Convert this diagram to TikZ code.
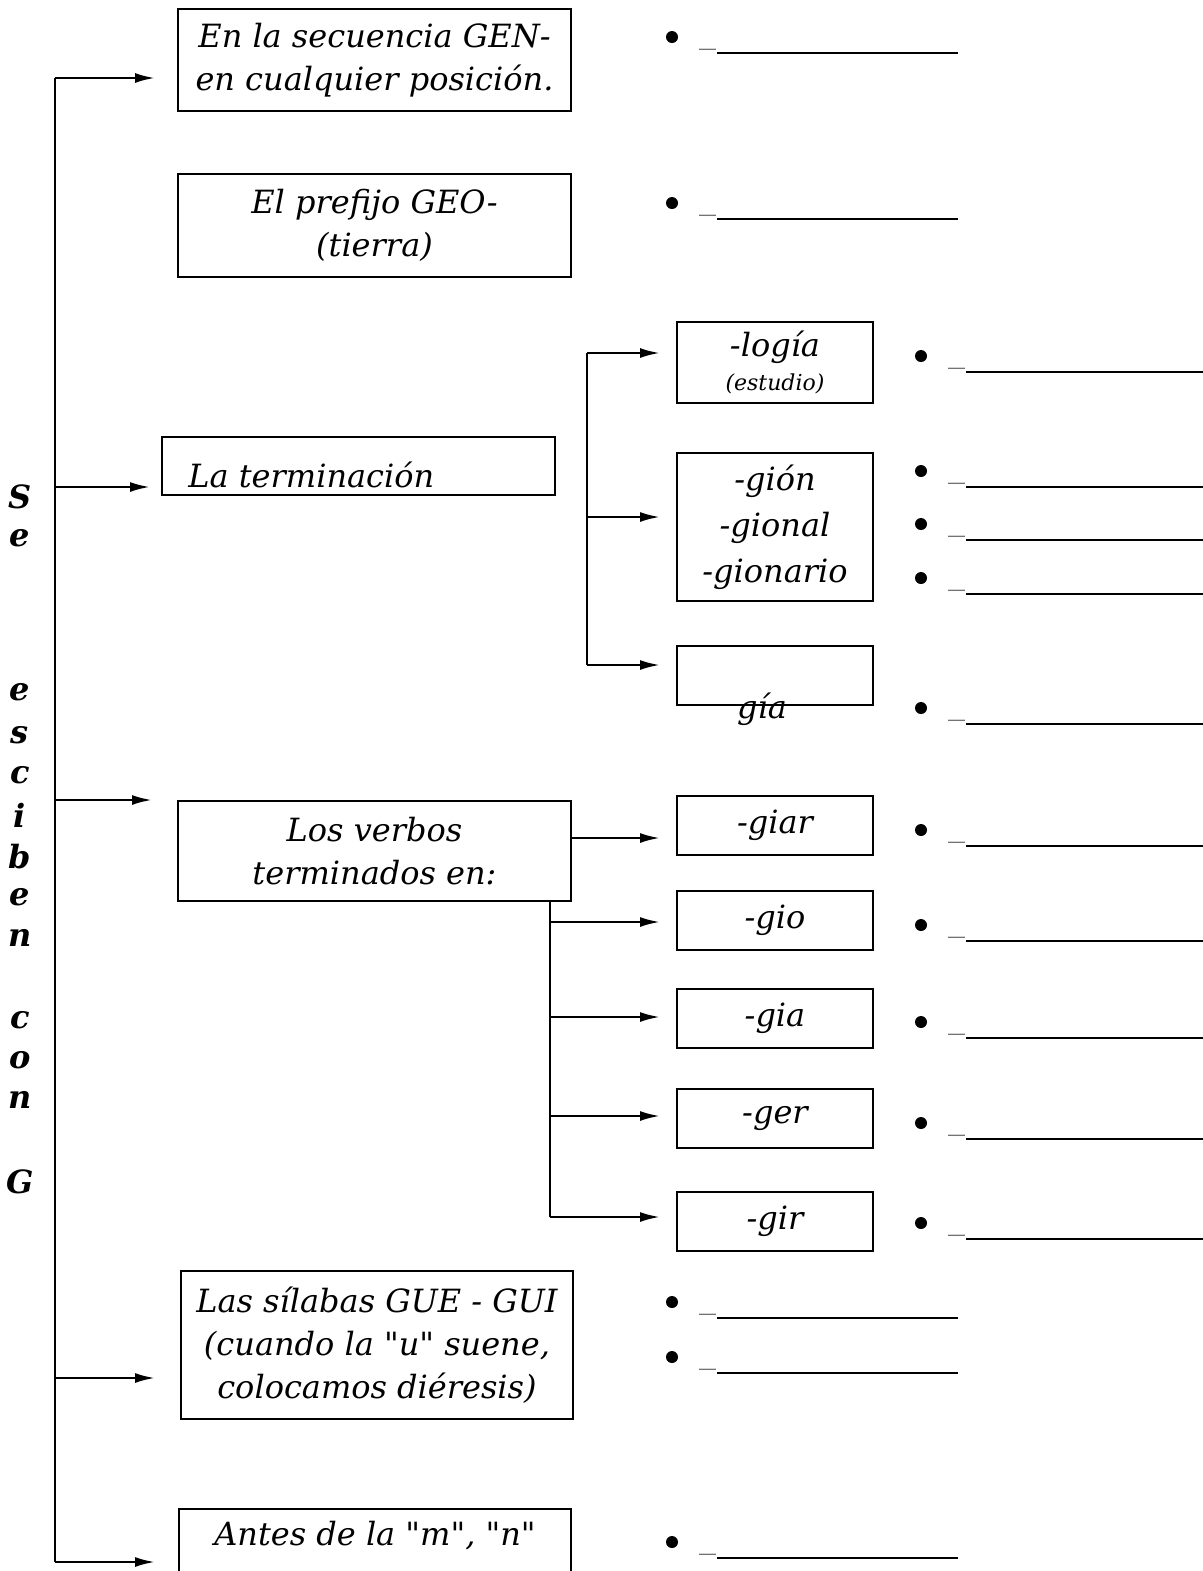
\documentclass[tikz,border=0pt]{standalone}
\usepackage{fontspec}
\setmainfont{DejaVu Serif}
\usepackage{tikz}
\usetikzlibrary{positioning, arrows.meta}

\begin{document}
\begin{tikzpicture}[x=0.5pt, y=-0.5pt,
		box/.style={draw, line width=1pt, rectangle, inner sep=0pt, anchor=north west, align=center,
			font=\fontsize{16}{21.5}\selectfont\itshape},
		txt/.style={inner sep=0pt, align=center, font=\fontsize{16}{21.5}\selectfont\itshape},
		vletter/.style={inner sep=0pt, font=\fontsize{16}{18}\selectfont\bfseries\itshape},
		dot/.style={circle, fill, inner sep=0pt, minimum size=6pt},
		under/.style={inner sep=0pt, anchor=south east, text=black!55, font=\fontsize{17}{17}\selectfont},
		blank/.style={line width=1.3pt},
		branch/.style={line width=1.2pt},
		>={Latex[length=10pt, width=5pt]}
		]
		\useasboundingbox (0,0) rectangle (1203,1571);
		
		% left column
		\node[box, minimum width=196.5pt, minimum height=51pt] (gen) at (177,8) {En la secuencia GEN-\\en cualquier posición.};
		\node[box, minimum width=196.5pt, minimum height=51.5pt] (geo) at (177,173) {El prefijo GEO-\\(tierra)};
		\node[box, minimum width=196.5pt, minimum height=29pt] (term) at (161,436) {};
		\node[txt, anchor=west] (termT) at (188,475) {La terminación};
		\node[box, minimum width=196.5pt, minimum height=50pt] (verb) at (177,800) {Los verbos\\terminados en:};
		\node[box, minimum width=196pt, minimum height=74pt] (gue) at (180,1270) {Las sílabas GUE - GUI\\(cuando la \textquotedbl u\textquotedbl{} suene,\\colocamos diéresis)};
		\node[box, minimum width=196pt, minimum height=46pt] (mn) at (178,1508) {Antes de la \textquotedbl m\textquotedbl, \textquotedbl n\textquotedbl\\\phantom{x}};
		
		% vertical title
		\foreach \l/\y in {S/497, e/538, e/692, s/735, c/775, i/815, b/857, e/897, n/938, c/1020, o/1060, n/1100, G/1182}
		\node[vletter] at (20,\y) {\l};
		
		% trunk
		\coordinate (top) at (55,78);
		\coordinate (bot) at (55,1562);
		\draw[branch] (top) -- (bot);
		\foreach \y/\e [count=\i] in {78/155, 487/150, 800/152, 1378/155, 1562/155} {
			\coordinate (in\i) at (\e,\y);
			\draw[branch, ->] (in\i -| top) -- (in\i);
		}
		
		% la terminacion
		\node[box, minimum width=98pt, minimum height=40.5pt, font=\fontsize{16}{19}\selectfont\itshape] (logia) at (676,321) {-logía\\[-2pt]{\fontsize{11}{12}\selectfont (estudio)}};
		\node[box, minimum width=98pt, minimum height=74pt, font=\fontsize{16}{23}\selectfont\itshape] (gion) at (676,452) {-gión\\-gional\\-gionario};
		\node[box, minimum width=98pt, minimum height=29.5pt] (gia) at (676,645) {};
		\node[txt] (giaT) at (762,709) {gía};
		\coordinate (split) at (587,353);
		\draw[branch] (split) -- (587,665);
		\foreach \y [count=\i] in {353, 517, 665} {
			\coordinate (tin\i) at (660,\y);
			\draw[branch, ->] (tin\i -| split) -- (tin\i);
		}
		
		% los verbos
		\foreach \name/\y [count=\i] in {giar/795, gio/890, gia/988, ger/1088, gir/1191} {
			\node[box, minimum width=98pt, minimum height=29.5pt] (v\i) at (676,\y) {-\name};
		}
		\coordinate (vin1) at (660,838);
		\draw[branch, ->] (verb.east |- vin1) -- (vin1);
		\coordinate (vsplit) at (550,900);
		\draw[branch] (vsplit) -- (550,1217);
		\foreach \y [count=\i from 2] in {922, 1017, 1116, 1217} {
			\coordinate (vin\i) at (660,\y);
			\draw[branch, ->] (vin\i -| vsplit) -- (vin\i);
		}
		
		% blanks
		\foreach \x/\y/\len [count=\i] in {672/37/241, 672/203/241, 921/356/238, 921/471/238, 921/524/238, 921/578/238, 921/708/238,
			921/830/238, 921/925/238, 921/1022/238, 921/1123/238, 921/1223/238, 672/1302/241, 672/1357/241, 672/1542/241} {
			\node[dot] (dot\i) at (\x,\y) {};
			\coordinate (ls\i) at (\x+45,\y+16);
			\node[under] (und\i) at ([yshift=1pt]ls\i) {\_};
			\draw[blank] (ls\i) -- ++(\len,0);
		}
\end{tikzpicture}
\end{document}
